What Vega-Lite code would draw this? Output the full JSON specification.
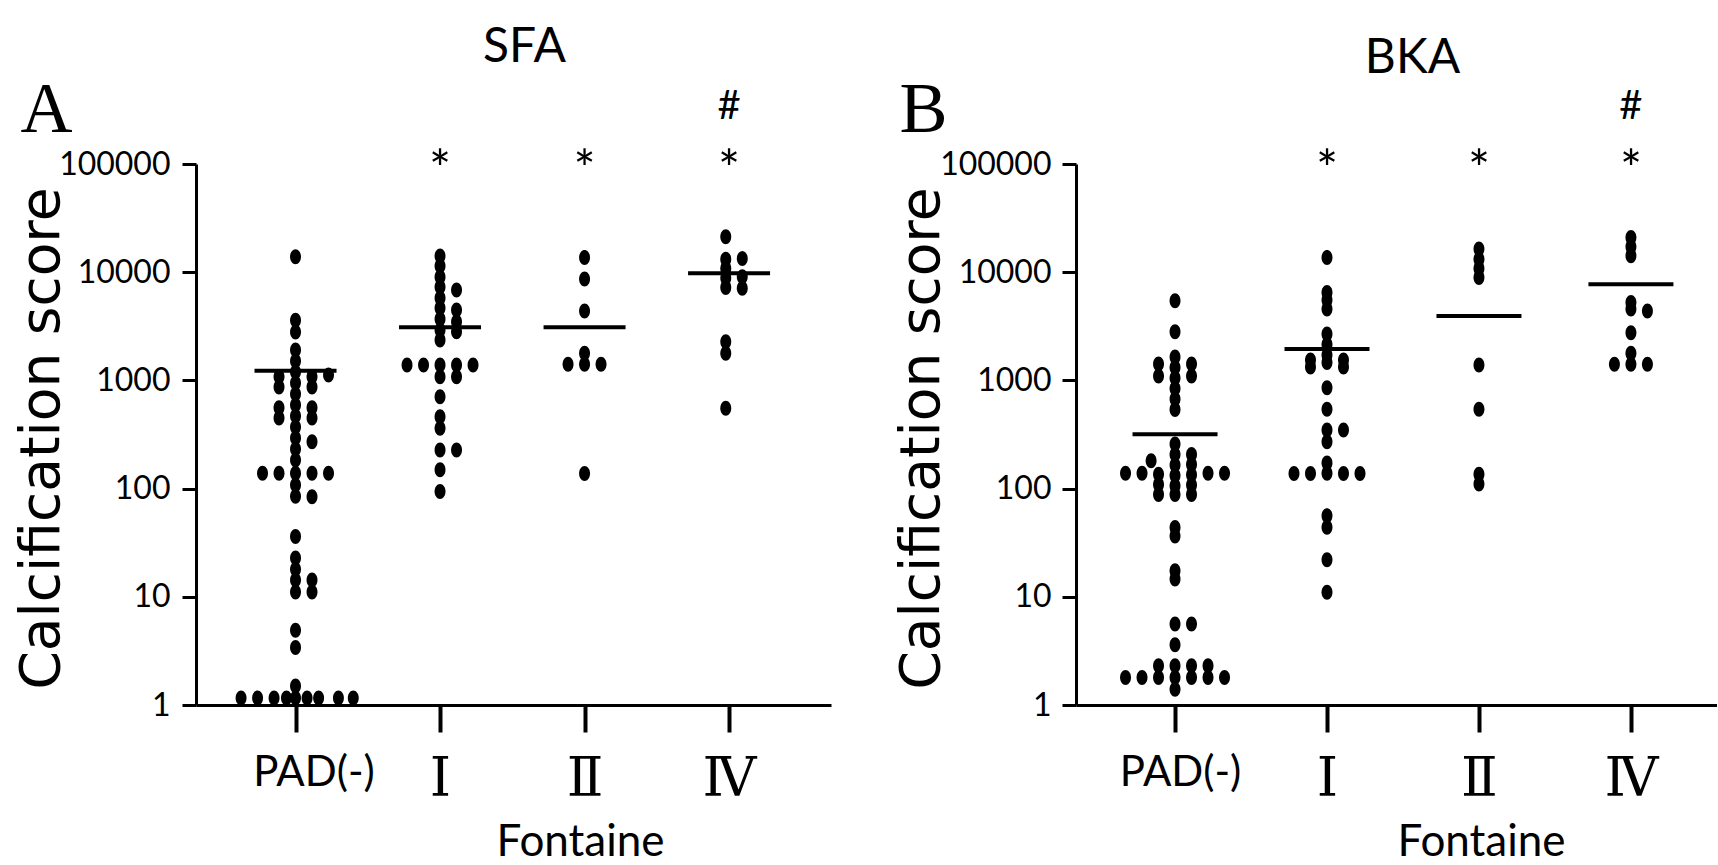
{
  "$schema": "https://vega.github.io/schema/vega-lite/v6.json",
  "background": "white",
  "padding": {"left": 13, "top": 23, "right": 0, "bottom": 0},
  "spacing": 245,
  "bounds": "flush",
  "config": {
    "view": {"stroke": null},
    "axis": {"grid": false, "domainColor": "black", "tickColor": "black", "labelColor": "black", "titleColor": "black"}
  },
  "datasets": {
    "dots": [
      {"panel":"SFA","stage":"PAD(-)","col":0,"score":13900},{"panel":"SFA","stage":"PAD(-)","col":0,"score":3600},{"panel":"SFA","stage":"PAD(-)","col":0,"score":2800},{"panel":"SFA","stage":"PAD(-)","col":0,"score":1910},{"panel":"SFA","stage":"PAD(-)","col":0,"score":1510},{"panel":"SFA","stage":"PAD(-)","col":0,"score":1196},{"panel":"SFA","stage":"PAD(-)","col":0,"score":946},{"panel":"SFA","stage":"PAD(-)","col":0,"score":748},{"panel":"SFA","stage":"PAD(-)","col":0,"score":593},{"panel":"SFA","stage":"PAD(-)","col":0,"score":469},{"panel":"SFA","stage":"PAD(-)","col":0,"score":371},{"panel":"SFA","stage":"PAD(-)","col":0,"score":294},{"panel":"SFA","stage":"PAD(-)","col":0,"score":232},{"panel":"SFA","stage":"PAD(-)","col":0,"score":184},{"panel":"SFA","stage":"PAD(-)","col":0,"score":139},{"panel":"SFA","stage":"PAD(-)","col":0,"score":108},{"panel":"SFA","stage":"PAD(-)","col":0,"score":85},{"panel":"SFA","stage":"PAD(-)","col":0,"score":36},{"panel":"SFA","stage":"PAD(-)","col":0,"score":22.8},{"panel":"SFA","stage":"PAD(-)","col":0,"score":18},{"panel":"SFA","stage":"PAD(-)","col":0,"score":14.3},{"panel":"SFA","stage":"PAD(-)","col":0,"score":11.1},{"panel":"SFA","stage":"PAD(-)","col":0,"score":4.9},{"panel":"SFA","stage":"PAD(-)","col":0,"score":3.4},{"panel":"SFA","stage":"PAD(-)","col":0,"score":1.5},
      {"panel":"SFA","stage":"PAD(-)","col":-1,"score":1080},{"panel":"SFA","stage":"PAD(-)","col":-1,"score":870},{"panel":"SFA","stage":"PAD(-)","col":-1,"score":560},{"panel":"SFA","stage":"PAD(-)","col":-1,"score":450},{"panel":"SFA","stage":"PAD(-)","col":-1,"score":139},
      {"panel":"SFA","stage":"PAD(-)","col":1,"score":1080},{"panel":"SFA","stage":"PAD(-)","col":1,"score":870},{"panel":"SFA","stage":"PAD(-)","col":1,"score":560},{"panel":"SFA","stage":"PAD(-)","col":1,"score":450},{"panel":"SFA","stage":"PAD(-)","col":1,"score":271},{"panel":"SFA","stage":"PAD(-)","col":1,"score":139},{"panel":"SFA","stage":"PAD(-)","col":1,"score":84},{"panel":"SFA","stage":"PAD(-)","col":1,"score":14.3},{"panel":"SFA","stage":"PAD(-)","col":1,"score":11.1},
      {"panel":"SFA","stage":"PAD(-)","col":2,"score":1120},{"panel":"SFA","stage":"PAD(-)","col":2,"score":139},{"panel":"SFA","stage":"PAD(-)","col":-2,"score":139},
      {"panel":"SFA","stage":"PAD(-)","col":-3.3,"score":1.16},{"panel":"SFA","stage":"PAD(-)","col":-2.3,"score":1.16},{"panel":"SFA","stage":"PAD(-)","col":-1.3,"score":1.16},{"panel":"SFA","stage":"PAD(-)","col":-0.55,"score":1.16},{"panel":"SFA","stage":"PAD(-)","col":0,"score":1.16},{"panel":"SFA","stage":"PAD(-)","col":0.7,"score":1.16},{"panel":"SFA","stage":"PAD(-)","col":1.4,"score":1.16},{"panel":"SFA","stage":"PAD(-)","col":2.6,"score":1.16},{"panel":"SFA","stage":"PAD(-)","col":3.5,"score":1.16},
      {"panel":"SFA","stage":"I","col":0,"score":14100},{"panel":"SFA","stage":"I","col":0,"score":11400},{"panel":"SFA","stage":"I","col":0,"score":9040},{"panel":"SFA","stage":"I","col":0,"score":7300},{"panel":"SFA","stage":"I","col":0,"score":5780},{"panel":"SFA","stage":"I","col":0,"score":4670},{"panel":"SFA","stage":"I","col":0,"score":3690},{"panel":"SFA","stage":"I","col":0,"score":2920},{"panel":"SFA","stage":"I","col":0,"score":2360},{"panel":"SFA","stage":"I","col":0,"score":1390},{"panel":"SFA","stage":"I","col":0,"score":1080},{"panel":"SFA","stage":"I","col":0,"score":706},{"panel":"SFA","stage":"I","col":0,"score":462},{"panel":"SFA","stage":"I","col":0,"score":361},{"panel":"SFA","stage":"I","col":0,"score":227},{"panel":"SFA","stage":"I","col":0,"score":149},{"panel":"SFA","stage":"I","col":0,"score":94},
      {"panel":"SFA","stage":"I","col":1,"score":6840},{"panel":"SFA","stage":"I","col":1,"score":4480},{"panel":"SFA","stage":"I","col":1,"score":3490},{"panel":"SFA","stage":"I","col":1,"score":2820},{"panel":"SFA","stage":"I","col":1,"score":1390},{"panel":"SFA","stage":"I","col":1,"score":1080},{"panel":"SFA","stage":"I","col":1,"score":227},
      {"panel":"SFA","stage":"I","col":-1,"score":1390},{"panel":"SFA","stage":"I","col":-2,"score":1390},{"panel":"SFA","stage":"I","col":2,"score":1390},
      {"panel":"SFA","stage":"II","col":0,"score":13700},{"panel":"SFA","stage":"II","col":0,"score":8650},{"panel":"SFA","stage":"II","col":0,"score":4380},{"panel":"SFA","stage":"II","col":0,"score":1780},{"panel":"SFA","stage":"II","col":0,"score":1410},{"panel":"SFA","stage":"II","col":0,"score":138},{"panel":"SFA","stage":"II","col":-1,"score":1410},{"panel":"SFA","stage":"II","col":1,"score":1410},
      {"panel":"SFA","stage":"IV","col":-0.2,"score":21300},{"panel":"SFA","stage":"IV","col":-0.2,"score":13200},{"panel":"SFA","stage":"IV","col":-0.2,"score":10800},{"panel":"SFA","stage":"IV","col":-0.2,"score":8830},{"panel":"SFA","stage":"IV","col":-0.2,"score":7210},{"panel":"SFA","stage":"IV","col":-0.2,"score":2280},{"panel":"SFA","stage":"IV","col":-0.2,"score":1780},{"panel":"SFA","stage":"IV","col":-0.2,"score":552},
      {"panel":"SFA","stage":"IV","col":0.8,"score":13400},{"panel":"SFA","stage":"IV","col":0.8,"score":9080},{"panel":"SFA","stage":"IV","col":0.8,"score":7100},
      {"panel":"BKA","stage":"PAD(-)","col":0,"score":5460},{"panel":"BKA","stage":"PAD(-)","col":0,"score":2820},{"panel":"BKA","stage":"PAD(-)","col":0,"score":1645},{"panel":"BKA","stage":"PAD(-)","col":0,"score":1316},{"panel":"BKA","stage":"PAD(-)","col":0,"score":1052},{"panel":"BKA","stage":"PAD(-)","col":0,"score":841},{"panel":"BKA","stage":"PAD(-)","col":0,"score":673},{"panel":"BKA","stage":"PAD(-)","col":0,"score":538},{"panel":"BKA","stage":"PAD(-)","col":0,"score":258},{"panel":"BKA","stage":"PAD(-)","col":0,"score":207},{"panel":"BKA","stage":"PAD(-)","col":0,"score":165},{"panel":"BKA","stage":"PAD(-)","col":0,"score":132},{"panel":"BKA","stage":"PAD(-)","col":0,"score":106},{"panel":"BKA","stage":"PAD(-)","col":0,"score":88},{"panel":"BKA","stage":"PAD(-)","col":0,"score":43.7},{"panel":"BKA","stage":"PAD(-)","col":0,"score":36.5},{"panel":"BKA","stage":"PAD(-)","col":0,"score":17.4},{"panel":"BKA","stage":"PAD(-)","col":0,"score":14.6},{"panel":"BKA","stage":"PAD(-)","col":0,"score":5.6},{"panel":"BKA","stage":"PAD(-)","col":0,"score":3.6},{"panel":"BKA","stage":"PAD(-)","col":0,"score":2.3},{"panel":"BKA","stage":"PAD(-)","col":0,"score":1.8},{"panel":"BKA","stage":"PAD(-)","col":0,"score":1.4},
      {"panel":"BKA","stage":"PAD(-)","col":-1,"score":1420},{"panel":"BKA","stage":"PAD(-)","col":-1,"score":1100},{"panel":"BKA","stage":"PAD(-)","col":-1,"score":136},{"panel":"BKA","stage":"PAD(-)","col":-1,"score":109},{"panel":"BKA","stage":"PAD(-)","col":-1,"score":88},{"panel":"BKA","stage":"PAD(-)","col":-1,"score":2.3},{"panel":"BKA","stage":"PAD(-)","col":-1,"score":1.8},
      {"panel":"BKA","stage":"PAD(-)","col":1,"score":1420},{"panel":"BKA","stage":"PAD(-)","col":1,"score":1100},{"panel":"BKA","stage":"PAD(-)","col":1,"score":207},{"panel":"BKA","stage":"PAD(-)","col":1,"score":167},{"panel":"BKA","stage":"PAD(-)","col":1,"score":134},{"panel":"BKA","stage":"PAD(-)","col":1,"score":108},{"panel":"BKA","stage":"PAD(-)","col":1,"score":88},{"panel":"BKA","stage":"PAD(-)","col":1,"score":5.6},{"panel":"BKA","stage":"PAD(-)","col":1,"score":2.3},{"panel":"BKA","stage":"PAD(-)","col":1,"score":1.8},
      {"panel":"BKA","stage":"PAD(-)","col":-1.45,"score":181},{"panel":"BKA","stage":"PAD(-)","col":-2,"score":139},{"panel":"BKA","stage":"PAD(-)","col":-2,"score":1.8},{"panel":"BKA","stage":"PAD(-)","col":-3,"score":139},{"panel":"BKA","stage":"PAD(-)","col":-3,"score":1.8},{"panel":"BKA","stage":"PAD(-)","col":2,"score":139},{"panel":"BKA","stage":"PAD(-)","col":2,"score":2.3},{"panel":"BKA","stage":"PAD(-)","col":2,"score":1.8},{"panel":"BKA","stage":"PAD(-)","col":3,"score":139},{"panel":"BKA","stage":"PAD(-)","col":3,"score":1.8},
      {"panel":"BKA","stage":"I","col":0,"score":13700},{"panel":"BKA","stage":"I","col":0,"score":6490},{"panel":"BKA","stage":"I","col":0,"score":5530},{"panel":"BKA","stage":"I","col":0,"score":4570},{"panel":"BKA","stage":"I","col":0,"score":2680},{"panel":"BKA","stage":"I","col":0,"score":2150},{"panel":"BKA","stage":"I","col":0,"score":1720},{"panel":"BKA","stage":"I","col":0,"score":1460},{"panel":"BKA","stage":"I","col":0,"score":857},{"panel":"BKA","stage":"I","col":0,"score":540},{"panel":"BKA","stage":"I","col":0,"score":348},{"panel":"BKA","stage":"I","col":0,"score":271},{"panel":"BKA","stage":"I","col":0,"score":172},{"panel":"BKA","stage":"I","col":0,"score":139},{"panel":"BKA","stage":"I","col":0,"score":56},{"panel":"BKA","stage":"I","col":0,"score":44},{"panel":"BKA","stage":"I","col":0,"score":22},{"panel":"BKA","stage":"I","col":0,"score":11},
      {"panel":"BKA","stage":"I","col":-1,"score":1540},{"panel":"BKA","stage":"I","col":-1,"score":1330},{"panel":"BKA","stage":"I","col":-1,"score":138},{"panel":"BKA","stage":"I","col":1,"score":1540},{"panel":"BKA","stage":"I","col":1,"score":1330},{"panel":"BKA","stage":"I","col":1,"score":348},{"panel":"BKA","stage":"I","col":1,"score":138},{"panel":"BKA","stage":"I","col":-2,"score":138},{"panel":"BKA","stage":"I","col":2,"score":138},
      {"panel":"BKA","stage":"II","col":0,"score":16400},{"panel":"BKA","stage":"II","col":0,"score":13200},{"panel":"BKA","stage":"II","col":0,"score":10800},{"panel":"BKA","stage":"II","col":0,"score":8930},{"panel":"BKA","stage":"II","col":0,"score":1390},{"panel":"BKA","stage":"II","col":0,"score":540},{"panel":"BKA","stage":"II","col":0,"score":136},{"panel":"BKA","stage":"II","col":0,"score":110},
      {"panel":"BKA","stage":"IV","col":0,"score":20900},{"panel":"BKA","stage":"IV","col":0,"score":17200},{"panel":"BKA","stage":"IV","col":0,"score":14200},{"panel":"BKA","stage":"IV","col":0,"score":5250},{"panel":"BKA","stage":"IV","col":0,"score":4570},{"panel":"BKA","stage":"IV","col":0,"score":2760},{"panel":"BKA","stage":"IV","col":0,"score":1780},{"panel":"BKA","stage":"IV","col":0,"score":1410},
      {"panel":"BKA","stage":"IV","col":1,"score":4380},{"panel":"BKA","stage":"IV","col":1,"score":1410},{"panel":"BKA","stage":"IV","col":-1,"score":1410}
    ],
    "means": [
      {"panel":"SFA","stage":"PAD(-)","score":1230},{"panel":"SFA","stage":"I","score":3100},{"panel":"SFA","stage":"II","score":3100},{"panel":"SFA","stage":"IV","score":9780},
      {"panel":"BKA","stage":"PAD(-)","score":318},{"panel":"BKA","stage":"I","score":1950},{"panel":"BKA","stage":"II","score":3940},{"panel":"BKA","stage":"IV","score":7730}
    ],
    "marks": [
      {"panel":"SFA","stage":"I","label":"*","score":59400},{"panel":"SFA","stage":"II","label":"*","score":59400},{"panel":"SFA","stage":"IV","label":"*","score":59400},{"panel":"SFA","stage":"IV","label":"#","score":260600},
      {"panel":"BKA","stage":"I","label":"*","score":59400},{"panel":"BKA","stage":"II","label":"*","score":59400},{"panel":"BKA","stage":"IV","label":"*","score":59400},{"panel":"BKA","stage":"IV","label":"#","score":260600}
    ]
  },
  "hconcat": [
    {
      "width": 635,
      "height": 541,
      "layer": [
        {
          "data": {"name": "dots"},
          "transform": [{"filter": "datum.panel === 'SFA'"}],
          "mark": {"type": "point", "filled": true, "shape": "M-0.73,0A0.73,1,0,1,1,0.73,0A0.73,1,0,1,1,-0.73,0Z", "size": 225, "color": "black", "opacity": 1, "strokeWidth": 0},
          "encoding": {
            "x": {"field": "stage", "type": "nominal", "sort": null,
              "scale": {"type": "point", "domain": ["PAD(-)", "I", "II", "IV"], "padding": 0.697, "align": 0.494},
              "axis": {"orient": "bottom", "title": "Fontaine", "titleFont": "Lato", "titleFontSize": 44, "titleFontWeight": "normal", "titleX": 384, "titleY": 150, "titleBaseline": "alphabetic", "titleAlign": "center", "titleAnchor": null,
                "labelExpr": "datum.value === 'I' ? 'Ⅰ' : datum.value === 'II' ? 'Ⅱ' : datum.value === 'IV' ? 'Ⅳ' : datum.value",
                "labelFont": {"condition": {"test": "datum.value === 'PAD(-)'", "value": "Lato"}, "value": "DejaVu Serif"},
                "labelFontSize": {"condition": {"test": "datum.value === 'PAD(-)'", "value": 42}, "value": 54},
                "labelOffset": {"condition": {"test": "datum.value === 'PAD(-)'", "value": 18}, "value": 0},
                "labelAngle": 0, "labelPadding": 20, "labelBaseline": "top", "tickSize": 27, "tickWidth": 4, "domainWidth": 3}},
            "xOffset": {"field": "col", "type": "quantitative", "scale": {"domain": [-1, 1], "range": [-16.5, 16.5]}},
            "y": {"field": "score", "type": "quantitative",
              "scale": {"type": "log", "domain": [1, 100000], "nice": false},
              "axis": {"orient": "left", "title": "Calcification score", "titleFont": "DejaVu Sans", "titleFontSize": 55, "titleFontWeight": "normal", "titleAngle": 270, "titleBaseline": "alphabetic", "titleX": -138, "titleY": 274, "titleAlign": "center", "titleAnchor": null,
                "values": [1, 10, 100, 1000, 10000, 100000], "format": "d", "labelFont": "Lato", "labelFontSize": 32, "labelPadding": 12, "tickSize": 14, "tickWidth": 3, "domainWidth": 3}}
          }
        },
        {
          "data": {"name": "means"},
          "transform": [{"filter": "datum.panel === 'SFA'"}],
          "mark": {"type": "tick", "orient": "horizontal", "color": "black", "size": 82, "thickness": 4, "opacity": 1},
          "encoding": {
            "x": {"field": "stage", "type": "nominal", "sort": null, "axis": null},
            "y": {"field": "score", "type": "quantitative", "axis": null}
          }
        },
        {
          "data": {"name": "marks"},
          "transform": [{"filter": "datum.panel === 'SFA'"}],
          "mark": {"type": "text", "font": "Lato", "baseline": "alphabetic", "align": "center", "color": "black"},
          "encoding": {
            "x": {"field": "stage", "type": "nominal", "sort": null,
              "axis": {"orient": "top", "title": "A", "labels": false, "ticks": false, "domain": false, "titleFont": "Liberation Serif", "titleFontSize": 72, "titleFontWeight": "normal", "titleX": -176, "titleY": -33, "titleBaseline": "alphabetic", "titleAlign": "left", "titleAngle": 0, "titleAnchor": null}},
            "y": {"field": "score", "type": "quantitative",
              "axis": {"orient": "right", "title": "SFA", "labels": false, "ticks": false, "domain": false, "titleFont": "Lato", "titleFontSize": 48, "titleFontWeight": "normal", "titleX": -307, "titleY": -103, "titleBaseline": "alphabetic", "titleAlign": "center", "titleAngle": 0, "titleAnchor": null}},
            "text": {"field": "label"},
            "size": {"condition": {"test": "datum.label === '*'", "value": 52}, "value": 40}
          }
        }
      ],
      "resolve": {"axis": {"x": "independent", "y": "independent"}}
    },
    {
      "width": 641,
      "height": 541,
      "layer": [
        {
          "data": {"name": "dots"},
          "transform": [{"filter": "datum.panel === 'BKA'"}],
          "mark": {"type": "point", "filled": true, "shape": "M-0.73,0A0.73,1,0,1,1,0.73,0A0.73,1,0,1,1,-0.73,0Z", "size": 225, "color": "black", "opacity": 1, "strokeWidth": 0},
          "encoding": {
            "x": {"field": "stage", "type": "nominal", "sort": null,
              "scale": {"type": "point", "domain": ["PAD(-)", "I", "II", "IV"], "padding": 0.609, "align": 0.535},
              "axis": {"orient": "bottom", "title": "Fontaine", "titleFont": "Lato", "titleFontSize": 44, "titleFontWeight": "normal", "titleX": 405, "titleY": 150, "titleBaseline": "alphabetic", "titleAlign": "center", "titleAnchor": null,
                "labelExpr": "datum.value === 'I' ? 'Ⅰ' : datum.value === 'II' ? 'Ⅱ' : datum.value === 'IV' ? 'Ⅳ' : datum.value",
                "labelFont": {"condition": {"test": "datum.value === 'PAD(-)'", "value": "Lato"}, "value": "DejaVu Serif"},
                "labelFontSize": {"condition": {"test": "datum.value === 'PAD(-)'", "value": 42}, "value": 54},
                "labelOffset": {"condition": {"test": "datum.value === 'PAD(-)'", "value": 5}, "value": 0},
                "labelAngle": 0, "labelPadding": 20, "labelBaseline": "top", "tickSize": 27, "tickWidth": 4, "domainWidth": 3}},
            "xOffset": {"field": "col", "type": "quantitative", "scale": {"domain": [-1, 1], "range": [-16.5, 16.5]}},
            "y": {"field": "score", "type": "quantitative",
              "scale": {"type": "log", "domain": [1, 100000], "nice": false},
              "axis": {"orient": "left", "title": "Calcification score", "titleFont": "DejaVu Sans", "titleFontSize": 55, "titleFontWeight": "normal", "titleAngle": 270, "titleBaseline": "alphabetic", "titleX": -138, "titleY": 274, "titleAlign": "center", "titleAnchor": null,
                "values": [1, 10, 100, 1000, 10000, 100000], "format": "d", "labelFont": "Lato", "labelFontSize": 32, "labelPadding": 11, "tickSize": 14, "tickWidth": 3, "domainWidth": 3}}
          }
        },
        {
          "data": {"name": "means"},
          "transform": [{"filter": "datum.panel === 'BKA'"}],
          "mark": {"type": "tick", "orient": "horizontal", "color": "black", "size": 85, "thickness": 4, "opacity": 1},
          "encoding": {
            "x": {"field": "stage", "type": "nominal", "sort": null, "axis": null},
            "y": {"field": "score", "type": "quantitative", "axis": null}
          }
        },
        {
          "data": {"name": "marks"},
          "transform": [{"filter": "datum.panel === 'BKA'"}],
          "mark": {"type": "text", "font": "Lato", "baseline": "alphabetic", "align": "center", "color": "black"},
          "encoding": {
            "x": {"field": "stage", "type": "nominal", "sort": null,
              "axis": {"orient": "top", "title": "B", "labels": false, "ticks": false, "domain": false, "titleFont": "Liberation Serif", "titleFontSize": 72, "titleFontWeight": "normal", "titleX": -177, "titleY": -33, "titleBaseline": "alphabetic", "titleAlign": "left", "titleAngle": 0, "titleAnchor": null}},
            "y": {"field": "score", "type": "quantitative",
              "axis": {"orient": "right", "title": "BKA", "labels": false, "ticks": false, "domain": false, "titleFont": "Lato", "titleFontSize": 48, "titleFontWeight": "normal", "titleX": -305, "titleY": -92, "titleBaseline": "alphabetic", "titleAlign": "center", "titleAngle": 0, "titleAnchor": null}},
            "text": {"field": "label"},
            "size": {"condition": {"test": "datum.label === '*'", "value": 52}, "value": 40}
          }
        }
      ],
      "resolve": {"axis": {"x": "independent", "y": "independent"}}
    }
  ]
}
